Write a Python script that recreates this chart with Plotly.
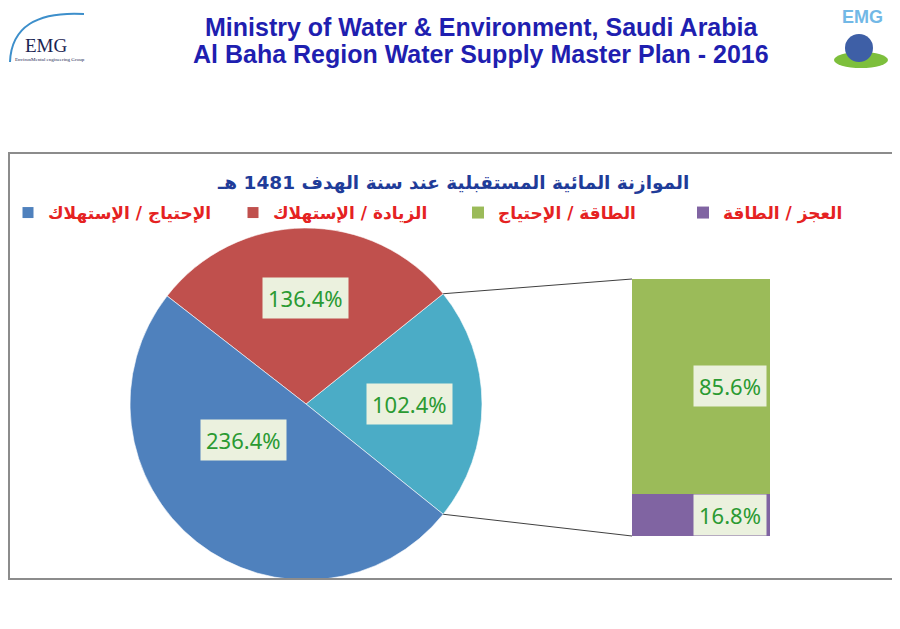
import math
import plotly.graph_objects as go

# pie: share of each slice (teal slice = the bar total)
pie_labels = ["الطاقة / الإستهلاك", "الزيادة / الإستهلاك", "الإحتياج / الإستهلاك"]
pie_values = [102.4, 136.4, 236.4]
pie_colors = ["#4BACC6", "#C0504D", "#4F81BD"]

# bar that splits the teal slice
bar_labels = ["العجز / الطاقة", "الطاقة / الإحتياج"]
bar_values = [16.8, 85.6]
bar_colors = ["#8064A2", "#9BBB59"]

chart_title = "الموازنة المائية المستقبلية عند سنة الهدف 1481 هـ"
header_1 = "Ministry of Water & Environment, Saudi Arabia"
header_2 = "Al Baha Region Water Supply Master Plan - 2016"

W, H = 900, 629
OFF = 8  # page margin of the browser


def px(x):
    return (x - OFF) / W


def py(y):
    return 1 - (y - OFF) / H


# pie placement (pixels)
cx, cy, R = 306, 404, 176
# bar placement (pixels)
bx0, bx1, by0, by1 = 632, 770, 279, 536

total = sum(pie_values)
teal_deg = pie_values[0] / total * 360

fig = go.Figure()

fig.add_trace(go.Pie(
    labels=pie_labels, values=pie_values, sort=False,
    direction="counterclockwise", rotation=90 - teal_deg / 2,
    marker=dict(colors=pie_colors, line=dict(color="rgba(255,255,255,0.6)", width=1)),
    textinfo="none", hoverinfo="label+value", showlegend=False,
    domain=dict(x=[px(cx - R), px(cx + R)], y=[py(cy + R), py(cy - R)]),
))

for name, val, col in zip(bar_labels, bar_values, bar_colors):
    fig.add_trace(go.Bar(
        x=[0], y=[val], name=name, marker=dict(color=col, line=dict(width=0)),
        width=1, legendrank=3 if col == "#9BBB59" else 4, hoverinfo="name+y",
    ))

# legend entries for the two pie slices shown in the legend
for name, col, rank in [(pie_labels[2], pie_colors[2], 1), (pie_labels[1], pie_colors[1], 2)]:
    fig.add_trace(go.Scatter(
        x=[None], y=[None], mode="markers", name=name, legendrank=rank,
        marker=dict(symbol="square", size=11, color=col),
    ))

label_font = dict(family="Noto Sans", size=22, color="#2A9A32")

# data labels on the pie
label_r = [0.59, 0.6, 0.41]
label_turn = [0, 0, -22]
start = -teal_deg / 2
annos = []
for i, v in enumerate(pie_values):
    span = v / total * 360
    mid = math.radians(start + span / 2 + label_turn[i])
    lx = cx + label_r[i] * R * math.cos(mid)
    ly = cy - label_r[i] * R * math.sin(mid)
    annos.append(dict(
        x=px(lx), y=py(ly), xref="paper", yref="paper", showarrow=False,
        xanchor="center", yanchor="middle",
        text=f"{v:.1f}%", bgcolor="#EBF1DE", borderpad=5, font=label_font,
    ))
    start += span

# data labels on the bar
cum = 0
for v in bar_values:
    annos.append(dict(
        x=0.5, y=cum + v / 2, xref="x", yref="y", xanchor="right", xshift=-3,
        yanchor="middle", showarrow=False, text=f"{v:.1f}%",
        bgcolor="#EBF1DE", borderpad=5, font=label_font,
    ))
    cum += v


def note(x, y, text, font):
    return dict(x=px(x), y=py(y), xref="paper", yref="paper", showarrow=False,
                xanchor="center", yanchor="middle", text=text, font=font)


annos += [
    note(482, 27, f"<b>{header_1}</b>",
         dict(family="Liberation Sans", size=25, color="#1F1FB0")),
    note(481, 54, f"<b>{header_2}</b>",
         dict(family="Liberation Sans", size=25, color="#1F1FB0")),
    note(453, 183, f"<b>{chart_title}</b>",
         dict(family="DejaVu Sans", size=18.5, color="#1F3C99")),
    # left logo
    note(46, 45, "EMG", dict(family="Liberation Serif", size=19, color="#1B2452")),
    note(50, 60, "EnvironMental engineering Group",
         dict(family="Liberation Serif", size=5, color="#1B2452")),
    # right logo
    note(862, 17, "<b>EMG</b>", dict(family="Liberation Sans", size=18, color="#72B8E6")),
]

shapes = [
    # chart frame
    dict(type="rect", xref="paper", yref="paper", x0=px(9), x1=px(915),
         y0=py(579), y1=py(153), line=dict(color="#8C8C8C", width=2)),
    # left logo arc
    dict(type="path", xref="paper", yref="paper",
         path=f"M {px(10)},{py(62)} Q {px(12)},{py(10)} {px(84)},{py(14)}",
         line=dict(color="#3D8FCB", width=2)),
    # right logo leaf and globe
    dict(type="circle", xref="paper", yref="paper", x0=px(834), x1=px(888),
         y0=py(68), y1=py(52), fillcolor="#7DBF3C", line=dict(width=0)),
    dict(type="circle", xref="paper", yref="paper", x0=px(845), x1=px(873),
         y0=py(62), y1=py(34), fillcolor="#3E5FA6", line=dict(width=0)),
]

# connector lines from the teal slice edges to the bar corners
half = math.radians(teal_deg / 2)
for sgn, yb in [(1, by0), (-1, by1)]:
    ex = cx + R * math.cos(sgn * half)
    ey = cy - R * math.sin(sgn * half)
    shapes.append(dict(type="line", xref="paper", yref="paper",
                       x0=px(ex), y0=py(ey), x1=px(bx0), y1=py(yb),
                       line=dict(color="#404040", width=1)))

fig.update_layout(
    width=W, height=H, margin=dict(l=0, r=0, t=0, b=0),
    paper_bgcolor="white", plot_bgcolor="rgba(0,0,0,0)",
    barmode="stack", bargap=0,
    xaxis=dict(domain=[px(bx0), px(bx1)], range=[-0.5, 0.5], visible=False, fixedrange=True),
    yaxis=dict(domain=[py(by1), py(by0)], range=[0, sum(bar_values)], visible=False, fixedrange=True),
    legend=dict(orientation="h", x=px(45), y=py(213), xanchor="left", yanchor="middle",
                entrywidth=180, entrywidthmode="pixels", traceorder="normal",
                font=dict(family="DejaVu Sans", size=17, color="#E52222", weight="bold"),
                bgcolor="rgba(0,0,0,0)"),
    annotations=annos, shapes=shapes,
)

fig.write_html("out.html")
